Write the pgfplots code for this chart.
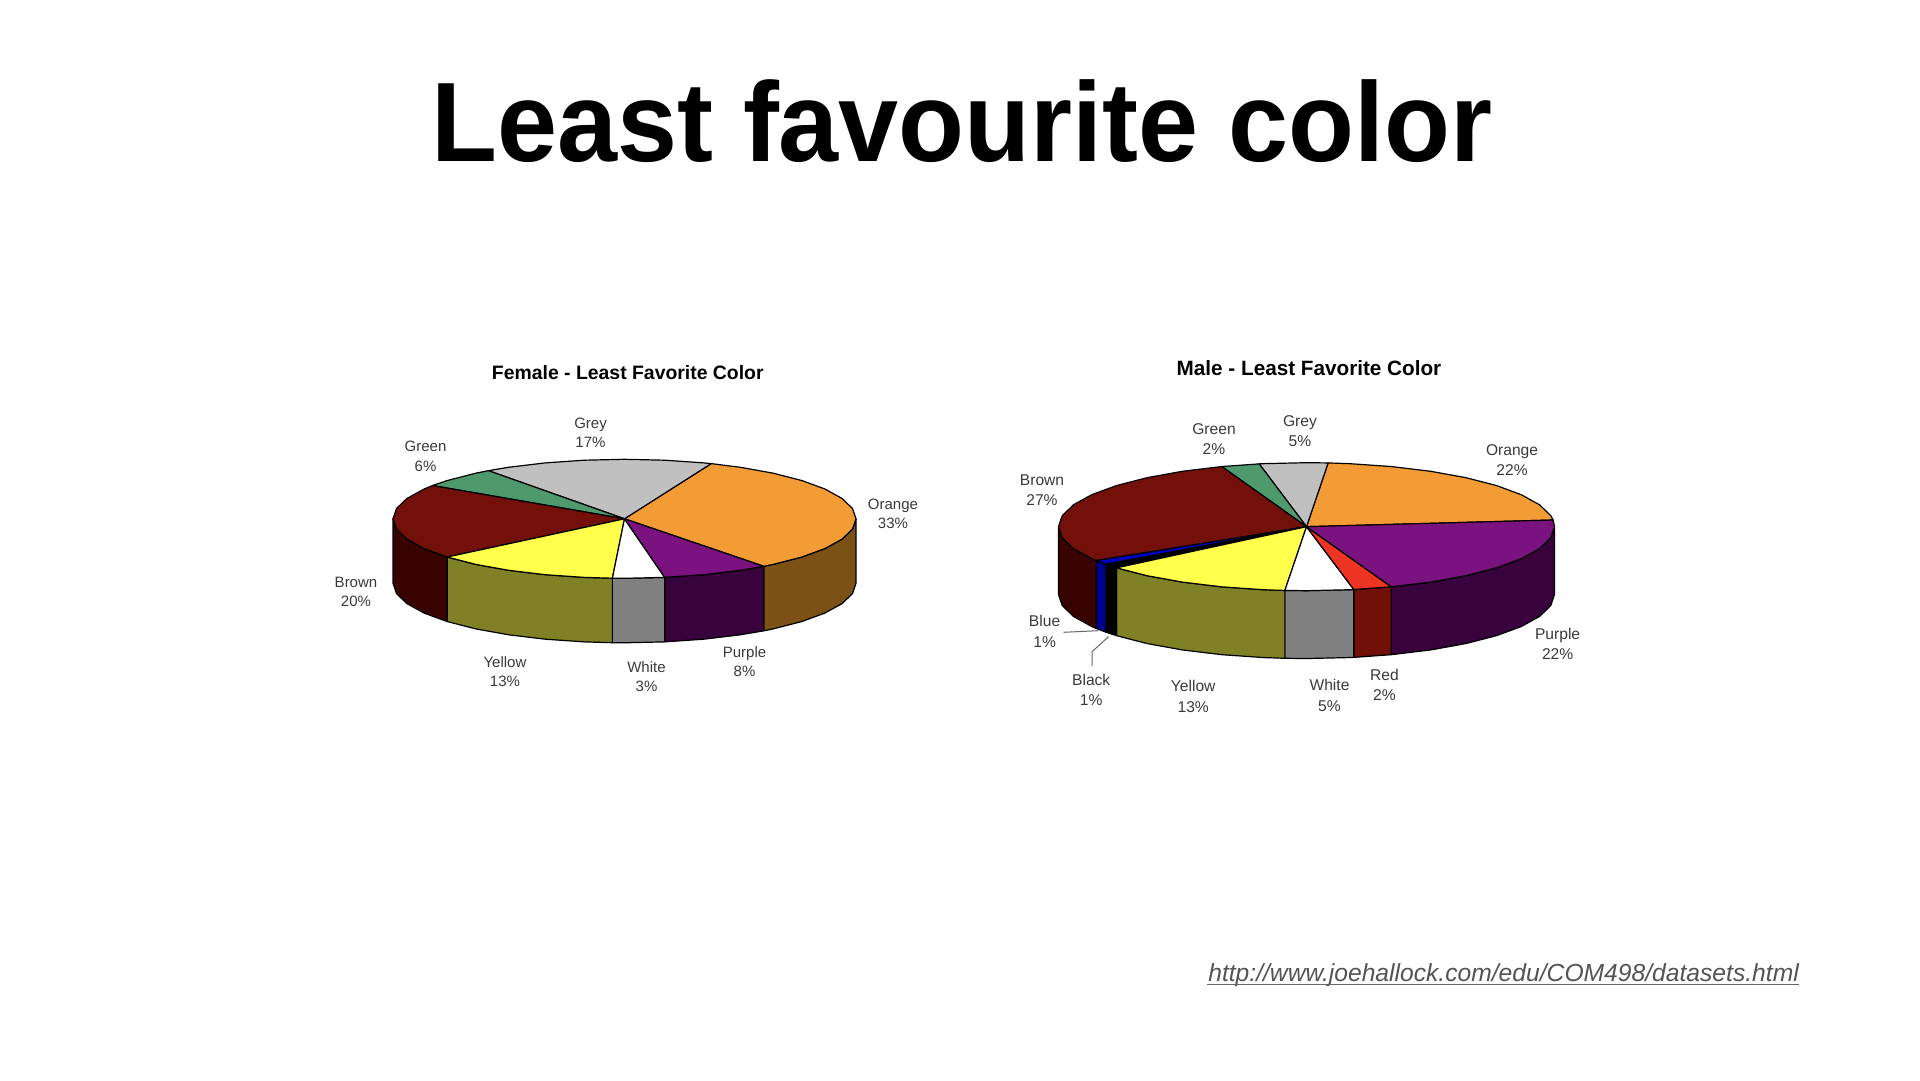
\documentclass[border=0pt]{standalone}
\usepackage{fontspec}
\setmainfont{Liberation Sans}
\usepackage{pgfplots}
\pgfplotsset{compat=1.18}

% slice colours, top face and side wall
\definecolor{orangeT}{HTML}{F39C35}
\definecolor{orangeW}{HTML}{7B5115}
\definecolor{greyT}{HTML}{C0C0C0}
\definecolor{greenT}{HTML}{4F9A6C}
\definecolor{brownT}{HTML}{73100A}
\definecolor{brownW}{HTML}{390400}
\definecolor{yellowT}{HTML}{FFFF4C}
\definecolor{yellowW}{HTML}{808026}
\definecolor{whiteW}{HTML}{808080}
\definecolor{purpleT}{HTML}{7A1280}
\definecolor{purpleW}{HTML}{38023C}
\definecolor{redT}{HTML}{EE3524}
\definecolor{redW}{HTML}{701008}
\definecolor{blueT}{HTML}{0000C0}
\definecolor{blueW}{HTML}{000090}
\definecolor{labelc}{HTML}{3A3A3A}

\pgfplotsset{
  pie/.style={
    hide axis, scale only axis, clip=false,
    xmin=-1, xmax=1, ymin=-1, ymax=1,
    anchor=center,
  },
  slice/.style={draw=black, line width=1.2pt, line join=round, mark=none},
}

\begin{document}
\begin{tikzpicture}[x=1pt,y=1pt,
    lab/.style={align=center,text=labelc,font=\fontsize{15}{19.3}\selectfont,inner sep=0pt},
    labm/.style={align=center,text=labelc,font=\fontsize{15.6}{20.3}\selectfont,inner sep=0pt}]

  \fill[white] (0,0) rectangle (1920,1080);

  \node[anchor=base,xscale=.955,font=\fontsize{113}{113}\selectfont\bfseries] at (962,918) {Least favourite color};
  \node[anchor=base east,inner sep=0pt,text=black!67,font=\fontsize{24.65}{26}\selectfont\itshape] at (1799,99)
    {http://www.joehallock.com/edu/COM498/datasets.html};
  \draw[black!60,line width=1.4pt] (1207,95.5)--(1799,95.5);

  % female pie
  \begin{axis}[pie, at={(624.5pt,561.2pt)}, width=463pt, height=119pt]
    % walls
    \addplot[slice,fill=orangeW] coordinates {(.6018,-.7986)(.6428,-.7660)(.7660,-.6428)(.8660,-.5)(.9397,-.3420)(.9848,-.1736)(1,0)
      (1,-1.084)(.9848,-1.2576)(.9397,-1.426)(.8660,-1.584)(.7660,-1.7268)(.6428,-1.85)(.6018,-1.8826)} -- cycle;
    \addplot[slice,fill=purpleW] coordinates {(.1736,-.9848)(.3420,-.9397)(.5,-.8660)(.6018,-.7986)
      (.6018,-1.8826)(.5,-1.95)(.3420,-2.0237)(.1736,-2.0688)} -- cycle;
    \addplot[slice,fill=whiteW] coordinates {(-.0523,-.9986)(0,-1)(.1736,-.9848)
      (.1736,-2.0688)(0,-2.084)(-.0523,-2.0826)} -- cycle;
    \addplot[slice,fill=yellowW] coordinates {(-.7660,-.6428)(-.6428,-.7660)(-.5,-.8660)(-.3420,-.9397)(-.1736,-.9848)(-.0523,-.9986)
      (-.0523,-2.0826)(-.1736,-2.0688)(-.3420,-2.0237)(-.5,-1.95)(-.6428,-1.85)(-.7660,-1.7268)} -- cycle;
    \addplot[slice,fill=brownW] coordinates {(-1,0)(-.9848,-.1736)(-.9397,-.3420)(-.8660,-.5)(-.7660,-.6428)
      (-.7660,-1.7268)(-.8660,-1.584)(-.9397,-1.426)(-.9848,-1.2576)(-1,-1.084)} -- cycle;
    % top face
    \addplot[slice,fill=orangeT] coordinates {(0,0)(.6018,-.7986)(.6428,-.7660)(.7660,-.6428)(.8660,-.5)(.9397,-.3420)(.9848,-.1736)(1,0)
      (.9848,.1736)(.9397,.3420)(.8660,.5)(.7660,.6428)(.6428,.7660)(.5,.8660)(.3746,.9272)} -- cycle;
    \addplot[slice,fill=greyT] coordinates {(0,0)(.3746,.9272)(.3420,.9397)(.1736,.9848)(0,1)(-.1736,.9848)(-.3420,.9397)(-.5,.8660)(-.5878,.8090)} -- cycle;
    \addplot[slice,fill=greenT] coordinates {(0,0)(-.5878,.8090)(-.6428,.7660)(-.7660,.6428)(-.8290,.5592)} -- cycle;
    \addplot[slice,fill=brownT] coordinates {(0,0)(-.8290,.5592)(-.8660,.5)(-.9397,.3420)(-.9848,.1736)(-1,0)(-.9848,-.1736)(-.9397,-.3420)(-.8660,-.5)(-.7660,-.6428)} -- cycle;
    \addplot[slice,fill=yellowT] coordinates {(0,0)(-.7660,-.6428)(-.6428,-.7660)(-.5,-.8660)(-.3420,-.9397)(-.1736,-.9848)(-.0523,-.9986)} -- cycle;
    \addplot[slice,fill=white] coordinates {(0,0)(-.0523,-.9986)(0,-1)(.1736,-.9848)} -- cycle;
    \addplot[slice,fill=purpleT] coordinates {(0,0)(.1736,-.9848)(.3420,-.9397)(.5,-.8660)(.6018,-.7986)} -- cycle;
  \end{axis}

  % male pie
  \begin{axis}[pie, at={(1306.5pt,553.3pt)}, width=496pt, height=128pt]
    % walls
    \addplot[slice,fill=purpleW] coordinates {(.3420,-.9397)(.5,-.8660)(.6428,-.7660)(.7660,-.6428)(.8660,-.5)(.9397,-.3420)(.9848,-.1736)(1,0)
      (1,-1.06)(.9848,-1.2336)(.9397,-1.402)(.8660,-1.56)(.7660,-1.7028)(.6428,-1.826)(.5,-1.926)(.3420,-1.9997)} -- cycle;
    \addplot[slice,fill=redW] coordinates {(.1908,-.9816)(.3420,-.9397)(.3420,-1.9997)(.1908,-2.0416)} -- cycle;
    \addplot[slice,fill=whiteW] coordinates {(-.0872,-.9962)(0,-1)(.1736,-.9848)(.1908,-.9816)
      (.1908,-2.0416)(.1736,-2.0448)(0,-2.06)(-.0872,-2.0562)} -- cycle;
    \addplot[slice,fill=yellowW] coordinates {(-.7660,-.6428)(-.6428,-.7660)(-.5,-.8660)(-.3420,-.9397)(-.1736,-.9848)(-.0872,-.9962)
      (-.0872,-2.0562)(-.1736,-2.0448)(-.3420,-1.9997)(-.5,-1.926)(-.6428,-1.826)(-.7660,-1.7028)} -- cycle;
    \addplot[slice,fill=black] coordinates {(-.8090,-.5878)(-.7660,-.6428)(-.7660,-1.7028)(-.8090,-1.6478)} -- cycle;
    \addplot[slice,fill=blueW] coordinates {(-.8480,-.5299)(-.8090,-.5878)(-.8090,-1.6478)(-.8480,-1.5899)} -- cycle;
    \addplot[slice,fill=brownW] coordinates {(-1,0)(-.9848,-.1736)(-.9397,-.3420)(-.8660,-.5)(-.8480,-.5299)
      (-.8480,-1.5899)(-.8660,-1.56)(-.9397,-1.402)(-.9848,-1.2336)(-1,-1.06)} -- cycle;
    % top face
    \addplot[slice,fill=orangeT] coordinates {(0,0)(.9945,.1045)(.9848,.1736)(.9397,.3420)(.8660,.5)(.7660,.6428)(.6428,.7660)(.5,.8660)(.3420,.9397)(.1736,.9848)(.0872,.9962)} -- cycle;
    \addplot[slice,fill=greyT] coordinates {(0,0)(.0872,.9962)(0,1)(-.1736,.9848)(-.1908,.9816)} -- cycle;
    \addplot[slice,fill=greenT] coordinates {(0,0)(-.1908,.9816)(-.3420,.9397)} -- cycle;
    \addplot[slice,fill=brownT] coordinates {(0,0)(-.3420,.9397)(-.5,.8660)(-.6428,.7660)(-.7660,.6428)(-.8660,.5)(-.9397,.3420)(-.9848,.1736)(-1,0)
      (-.9848,-.1736)(-.9397,-.3420)(-.8660,-.5)(-.8480,-.5299)} -- cycle;
    \addplot[slice,fill=blueT] coordinates {(0,0)(-.8480,-.5299)(-.8090,-.5878)} -- cycle;
    \addplot[slice,fill=black] coordinates {(0,0)(-.8090,-.5878)(-.7660,-.6428)} -- cycle;
    \addplot[slice,fill=yellowT] coordinates {(0,0)(-.7660,-.6428)(-.6428,-.7660)(-.5,-.8660)(-.3420,-.9397)(-.1736,-.9848)(-.0872,-.9962)} -- cycle;
    \addplot[slice,fill=white] coordinates {(0,0)(-.0872,-.9962)(0,-1)(.1736,-.9848)(.1908,-.9816)} -- cycle;
    \addplot[slice,fill=redT] coordinates {(0,0)(.1908,-.9816)(.3420,-.9397)} -- cycle;
    \addplot[slice,fill=purpleT] coordinates {(0,0)(.3420,-.9397)(.5,-.8660)(.6428,-.7660)(.7660,-.6428)(.8660,-.5)(.9397,-.3420)(.9848,-.1736)(1,0)(.9945,.1045)} -- cycle;
  \end{axis}

  % female labels
  \node[font=\fontsize{19.4}{22}\selectfont\bfseries,inner sep=0pt] at (627.8,707) {Female - Least Favorite Color};
  \node[lab] at (590.5,647) {Grey\\17\%};
  \node[lab] at (425.5,623.7) {Green\\6\%};
  \node[lab] at (893,566.2) {Orange\\33\%};
  \node[lab] at (356,488) {Brown\\20\%};
  \node[lab] at (505,408.7) {Yellow\\13\%};
  \node[lab] at (646.5,403.7) {White\\3\%};
  \node[lab] at (744.5,418.7) {Purple\\8\%};

  % male labels
  \node[font=\fontsize{20.7}{23}\selectfont\bfseries,inner sep=0pt] at (1309,712) {Male - Least Favorite Color};
  \node[labm] at (1300,649) {Grey\\5\%};
  \node[labm] at (1214,641) {Green\\2\%};
  \node[labm] at (1512,620) {Orange\\22\%};
  \node[labm] at (1042,589.7) {Brown\\27\%};
  \node[labm] at (1044.6,448.7) {Blue\\1\%};
  \node[labm] at (1091.2,390) {Black\\1\%};
  \node[labm] at (1193.2,383.7) {Yellow\\13\%};
  \node[labm] at (1329.5,384.7) {White\\5\%};
  \node[labm] at (1384.5,395.3) {Red\\2\%};
  \node[labm] at (1557.6,436) {Purple\\22\%};

  % leader lines of the two thin slices
  \draw[black!60,line width=1pt] (1063.5,447.7)--(1098.3,449.3);
  \draw[black!60,line width=1pt] (1092,414)--(1092,428.3)--(1108.5,443.3);
\end{tikzpicture}
\end{document}
